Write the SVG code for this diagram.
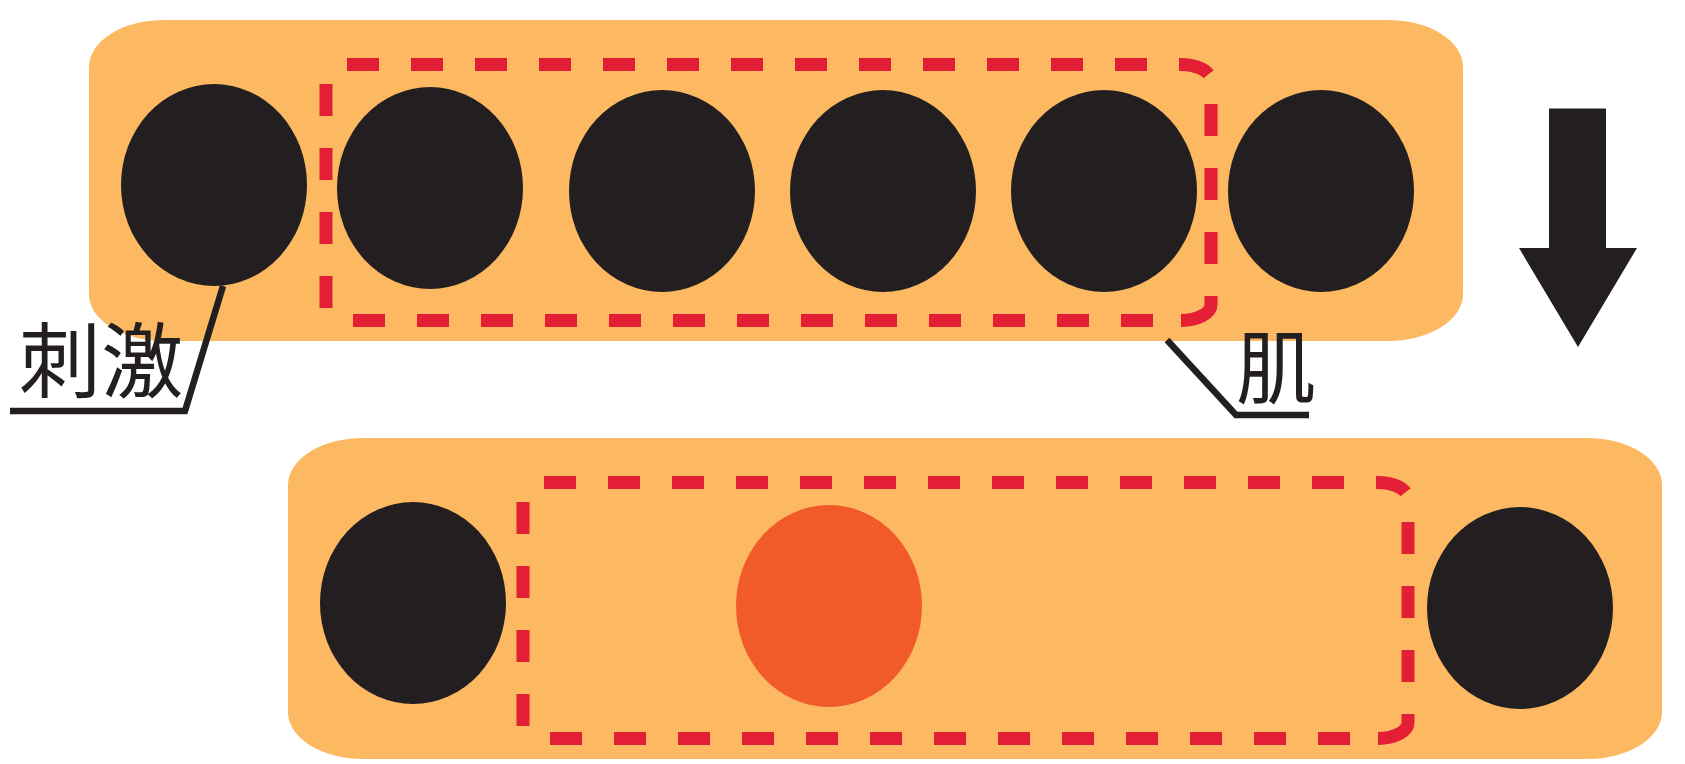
<svg xmlns="http://www.w3.org/2000/svg" xmlns:xlink="http://www.w3.org/1999/xlink" width="1685" height="764" viewBox="0 0 1685 764">
<style>
.band{fill:#FCB962}
.cell{fill:#231F20}
.active{fill:#F15A29}
.dash{fill:none;stroke:#E31E35;stroke-width:13;stroke-dasharray:32 32}
.lead{fill:none;stroke:#231F20;stroke-width:6.5}
.lbl{font-family:"Noto Sans CJK JP","Noto Sans CJK SC",sans-serif;fill:#231F20}
.arrow{fill:#231F20}
</style>
<defs>
<path id="bandShape" class="band" d="M 75,0 H 1299 A 75 47 0 0 1 1374 47 V 274 A 75 47 0 0 1 1299 321 H 75 A 75 47 0 0 1 0 274 V 47 A 75 47 0 0 1 75 0 Z"/>
<g id="dashBox">
<path class="dash" d="M 21,0 H 855 A 30 16 0 0 1 885 16"/>
<path class="dash" style="stroke-dasharray:32 32 32 32 32 32 100" d="M 885,39.5 V 240 A 30 16 0 0 1 855 256"/>
<path class="dash" d="M 827,256 H 27"/>
<path class="dash" d="M 0,243.5 V 19.5"/>
</g>
</defs>

<g id="fiber-top">
<use xlink:href="#bandShape" href="#bandShape" transform="translate(89,20)"/>
<ellipse class="cell" cx="214" cy="185" rx="93" ry="101"/>
<ellipse class="cell" cx="430" cy="188" rx="93" ry="101"/>
<ellipse class="cell" cx="662" cy="191" rx="93" ry="101"/>
<ellipse class="cell" cx="883" cy="191" rx="93" ry="101"/>
<ellipse class="cell" cx="1104" cy="191" rx="93" ry="101"/>
<ellipse class="cell" cx="1321" cy="191" rx="93" ry="101"/>
<use xlink:href="#dashBox" href="#dashBox" transform="translate(326,64.5)"/>
</g>

<g id="fiber-bottom">
<use xlink:href="#bandShape" href="#bandShape" transform="translate(288,438)"/>
<ellipse class="cell" cx="413" cy="603" rx="93" ry="101"/>
<ellipse class="active" cx="829" cy="606" rx="93" ry="101"/>
<ellipse class="cell" cx="1520" cy="608" rx="93" ry="101"/>
<use xlink:href="#dashBox" href="#dashBox" transform="translate(523,482.5)"/>
</g>

<g id="arrow-down">
<polygon class="arrow" points="1549,108.5 1606,108.5 1606,248 1637,248 1578,347 1519,248 1549,248"/>
</g>

<g id="connectors">
<polyline class="lead" points="223,286 185,411 10,411"/>
<polyline class="lead" points="1167,340 1236,415 1309,415"/>
</g>

<g id="label-stimulus">
<text class="lbl" x="19" y="391" font-size="82">刺激</text>
</g>
<g id="label-muscle">
<text class="lbl" x="1236" y="397" font-size="80">肌</text>
</g>
</svg>
